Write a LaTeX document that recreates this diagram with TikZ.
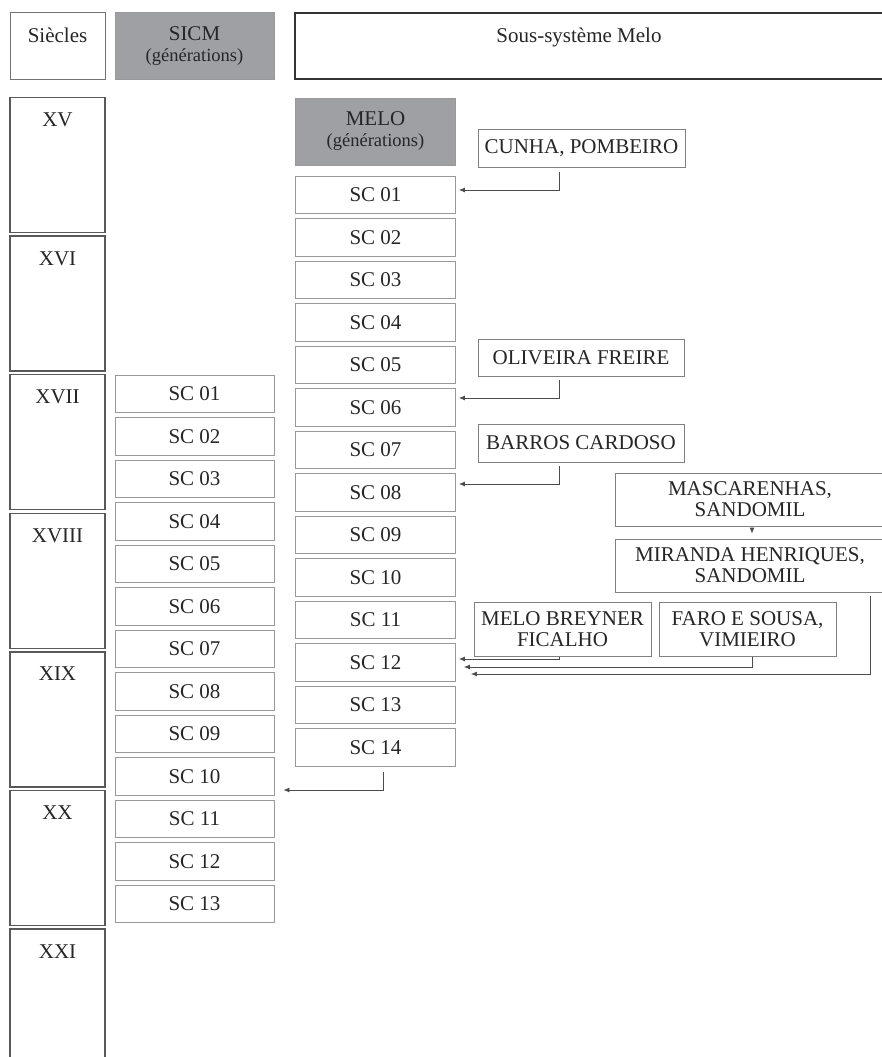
\documentclass[tikz,border=0pt]{standalone}
\usepackage{fontspec}
\setmainfont{Liberation Serif}
\usetikzlibrary{arrows.meta, positioning}
\definecolor{boxgray}{RGB}{158,160,164}
\newcommand\gen{\fontsize{18.5}{19}\selectfont}

\begin{document}
\begin{tikzpicture}[x=1pt, y=-1pt, >={Latex[length=6pt,width=5pt]},
    every node/.style={font=\fontsize{21}{21}\selectfont, inner sep=0pt, text=black!85},
    hbox/.style={draw=black!55, line width=1pt, minimum width=95pt, text height=30pt, text depth=36pt},
    gbox/.style={draw=black!40, fill=boxgray, line width=0.8pt, align=center, minimum width=159pt, minimum height=67pt},
    cbox/.style={draw=black!65, line width=1.3pt, minimum width=95pt, text height=29pt, text depth=106pt},
    scbox/.style={draw=black!40, line width=0.8pt, minimum width=159pt, minimum height=37.5pt},
    fambox/.style={draw=black!50, line width=0.8pt, align=center},
    link/.style={->, draw=black!70, line width=0.8pt}]
\useasboundingbox (0,0) rectangle (881,1057);
\fill[white] (0,0) rectangle (881,1057);

\node[hbox] (siecles) at (57.5,46) {Siècles};
\node[gbox] (sicm) at (194.5,46) {SICM\\{\gen(générations)}};
\draw[draw=black!80, line width=1.5pt] (295,13) rectangle (895,79);
\node[text height=30pt, text depth=36pt] (sousmelo) at (579,46) {Sous-système Melo};

\foreach \r [count=\i from 0] in {XV,XVI,XVII,XVIII,XIX,XX,XXI}
    \node[cbox] (sec\r) at ({57.5},{165+\i*138.6}) {\r};

\node[gbox, minimum width=160pt] (melo) at (375.5,131.5) {MELO\\{\gen(générations)}};
\foreach \k in {1,...,14}
    \node[scbox, minimum width=160pt] (m\k) at ({375.5},{194.75+(\k-1)*42.5}) {SC \ifnum\k<10 0\fi\k};
\foreach \k in {1,...,13}
    \node[scbox] (s\k) at ({194.5},{393.75+(\k-1)*42.5}) {SC \ifnum\k<10 0\fi\k};

\node[fambox, minimum width=207pt, minimum height=38pt] (cunha) at (581.5,148) {CUNHA, POMBEIRO};
\node[fambox, minimum width=206pt, minimum height=37pt] (oliveira) at (581,357.5) {OLIVEIRA FREIRE};
\node[fambox, minimum width=206pt, minimum height=38pt] (barros) at (581,443) {BARROS CARDOSO};
\node[fambox, minimum width=270pt, minimum height=53pt] (mascarenhas) at (750,499.5) {MASCARENHAS,\\SANDOMIL};
\node[fambox, minimum width=270pt, minimum height=53pt] (miranda) at (750,565.5) {MIRANDA HENRIQUES,\\SANDOMIL};
\node[fambox, minimum width=177pt, minimum height=54pt] (breyner) at (562.5,629) {MELO BREYNER\\FICALHO};
\node[fambox, minimum width=177pt, minimum height=54pt] (faro) at (747.5,629) {FARO E SOUSA,\\VIMIEIRO};

\draw[link, shorten <=5pt, shorten >=3pt] ([xshift=-22.5pt]cunha.south) |- ([yshift=4.75pt]m1.east);
\draw[link, shorten <=4pt, shorten >=3pt] ([xshift=-22pt]oliveira.south) |- ([yshift=9.25pt]m6.east);
\draw[link, shorten <=4pt, shorten >=3pt] ([xshift=-22pt]barros.south) |- ([yshift=8.25pt]m8.east);
\draw[link, shorten <=2pt, shorten >=5pt] ([xshift=2pt]mascarenhas.south) -- ([xshift=2pt]miranda.north);
\draw[link, shorten <=1pt, shorten >=3pt] ([xshift=-3.5pt]breyner.south) |- ([yshift=3.25pt]m12.east);
\draw[link, shorten <=1pt, shorten >=8pt] ([xshift=4.5pt]faro.south) |- ([yshift=-4.75pt]m12.east);
\draw[link, shorten <=4pt, shorten >=15pt] ([xshift=120pt]miranda.south) |- ([yshift=-11.75pt]m12.east);
\draw[link, shorten <=6pt, shorten >=9pt] ([xshift=7.5pt]m14.south) |- ([yshift=-13.75pt]s10.east);
\end{tikzpicture}
\end{document}
